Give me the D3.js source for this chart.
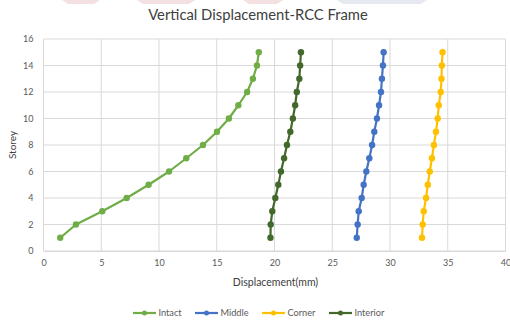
<!DOCTYPE html>
<html><head><meta charset="utf-8">
<script src="https://cdn.jsdelivr.net/npm/d3@7"></script>
<style>body{margin:0;background:#fff}svg{display:block;font-family:Lato,"Open Sans",sans-serif}</style>
</head><body><svg id="c" width="510" height="320"></svg>
<script>
const storeys = [1,2,3,4,5,6,7,8,9,10,11,12,13,14,15];
const intact   = [1.45,2.81,5.09,7.2,9.1,10.87,12.36,13.81,15.02,16.05,16.87,17.63,18.13,18.48,18.64];
const middle   = [27.12,27.2,27.29,27.55,27.72,27.95,28.21,28.45,28.64,28.87,29.05,29.22,29.3,29.39,29.45];
const corner   = [32.77,32.83,32.92,33.12,33.27,33.44,33.63,33.8,33.98,34.13,34.22,34.39,34.46,34.49,34.55];
const interior = [19.65,19.67,19.81,20.07,20.33,20.56,20.83,21.08,21.37,21.59,21.79,21.93,22.15,22.22,22.29];
const seriesNames = ["Intact","Middle","Corner","Interior"];
const seriesColors = ["#70AD47","#4472C4","#FFC000","#43682B"];
const xTicks = [0,5,10,15,20,25,30,35,40];
const yTicks = [0,2,4,6,8,10,12,14,16];

const svg = d3.select("#c");
const x = d3.scaleLinear().domain([0,40]).range([43.5,505.5]);
const y = d3.scaleLinear().domain([0,16]).range([251,39]);

// faint background watermark strip at top edge
const bands = [[62,100,"#f4e0e0"],[137,195,"#f4e0e0"],[243,283,"#f4e0e0"],[337,427,"#e6e9ef"]];
svg.append("g").selectAll("path").data(bands).join("path")
  .attr("d",d=>`M${d[0]},0L${d[1]},0L${d[1]-6},4L${d[0]+6},4Z`).attr("fill",d=>d[2]);

// grid
svg.append("g").selectAll("line").data(xTicks).join("line")
  .attr("x1",d=>x(d)).attr("x2",d=>x(d)).attr("y1",y(0)).attr("y2",y(16))
  .attr("stroke","#d9d9d9").attr("stroke-width",1);
svg.append("g").selectAll("line").data(yTicks).join("line")
  .attr("x1",x(0)).attr("x2",x(40)).attr("y1",d=>y(d)).attr("y2",d=>y(d))
  .attr("stroke","#d9d9d9").attr("stroke-width",1);

// axes labels
const xa = svg.append("g").attr("transform",`translate(0,${y(0)})`)
  .call(d3.axisBottom(x).tickValues(xTicks).tickSize(0).tickPadding(9));
xa.select(".domain").attr("stroke","#d9d9d9");
xa.selectAll("text").attr("fill","#595959").attr("font-size","9px").attr("font-family","Lato,'Open Sans',sans-serif");
const ya = svg.append("g").attr("transform",`translate(${x(0)},0)`)
  .call(d3.axisLeft(y).tickValues(yTicks).tickSize(0).tickPadding(10));
ya.select(".domain").remove();
ya.selectAll("text").attr("fill","#595959").attr("font-size","9px").attr("font-family","Lato,'Open Sans',sans-serif");

// title
svg.append("text").attr("x",258).attr("y",20).attr("text-anchor","middle")
  .attr("font-size","14.8px").attr("fill","#404040").text("Vertical Displacement-RCC Frame");
svg.append("text").attr("x",275.5).attr("y",286).attr("text-anchor","middle")
  .attr("font-size","10.5px").attr("fill","#404040").text("Displacement(mm)");
svg.append("text").attr("transform","translate(16,145) rotate(-90)").attr("text-anchor","middle")
  .attr("font-size","10px").attr("fill","#404040").text("Storey");

// series
const data = [intact,middle,corner,interior];
const line = d3.line().x(d=>x(d[0])).y(d=>y(d[1]));
const drawOrder = [0,3,1,2];
drawOrder.forEach(i=>{
  const pts = data[i].map((v,k)=>[v,storeys[k]]);
  svg.append("path").datum(pts).attr("d",line).attr("fill","none")
    .attr("stroke",seriesColors[i]).attr("stroke-width",2.2).attr("stroke-linejoin","round");
  svg.append("g").selectAll("circle").data(pts).join("circle")
    .attr("cx",d=>x(d[0])).attr("cy",d=>y(d[1])).attr("r",3.2).attr("fill",seriesColors[i]);
});

// legend
const legX = [133,195,262,329];
const lg = svg.append("g");
seriesNames.forEach((n,i)=>{
  const g = lg.append("g").attr("transform",`translate(${legX[i]},313)`);
  g.append("line").attr("x1",0).attr("x2",23).attr("y1",0).attr("y2",0)
    .attr("stroke",seriesColors[i]).attr("stroke-width",2.2);
  g.append("circle").attr("cx",11.5).attr("cy",0).attr("r",2.5).attr("fill",seriesColors[i]);
  g.append("text").attr("x",25.5).attr("y",3.2).attr("font-size","9.2px").attr("fill","#595959").text(n);
});
</script></body></html>
